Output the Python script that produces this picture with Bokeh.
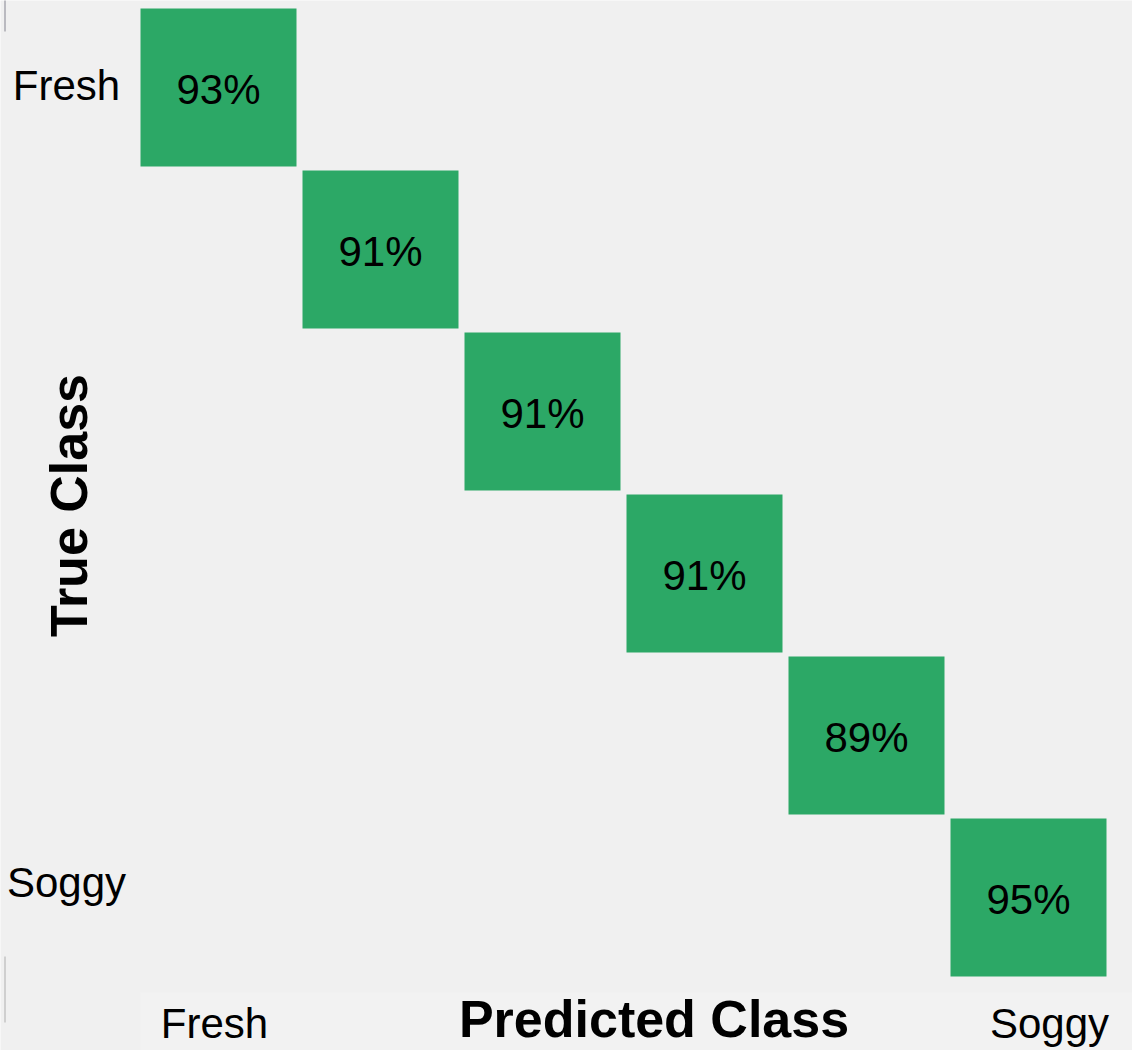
from bokeh.plotting import figure
from bokeh.models import ColumnDataSource, Range1d
from bokeh.core.properties import value
from bokeh.embed import file_html
from bokeh.resources import INLINE

# ---------------- data ----------------
n_classes = 6
y_tick_labels = ["Fresh", "Soggy"]          # labels shown on the True Class axis
x_tick_labels = ["Fresh", "Soggy"]          # labels shown on the Predicted Class axis
diag_values = [93, 91, 91, 91, 89, 95]      # % correct on the diagonal
x_title = "Predicted Class"
y_title = "True Class"

# ---------------- layout ----------------
W, H = 1132, 1050
CELL = 162.0                 # px per cell
GRID_LEFT_PX = 137           # px where column 0 begins
GRID_TOP_PX = 6              # px where row 0 begins

x_start = -GRID_LEFT_PX / CELL
x_end = x_start + W / CELL
y_top = -GRID_TOP_PX / CELL
y_bottom = y_top + H / CELL

def px_to_x(px):
    return (px - GRID_LEFT_PX) / CELL

def px_to_y(py):
    return (py - GRID_TOP_PX) / CELL

GREEN = "#2ca866"
BG = "#f0f0f0"
FONT = value("Liberation Sans")

p = figure(width=W, height=H, output_backend="svg", toolbar_location=None,
           x_range=Range1d(x_start, x_end), y_range=Range1d(y_bottom, y_top),
           min_border=0, min_border_left=0, min_border_right=0,
           min_border_top=0, min_border_bottom=0)
p.axis.visible = False
p.grid.visible = False
p.outline_line_color = None
p.background_fill_color = BG
p.border_fill_color = BG

# lighter strip behind the predicted-class axis
p.quad(left=px_to_x(140), right=x_end + 1, top=px_to_y(992), bottom=y_bottom + 1,
       fill_color="#f2f2f2", line_color=None)

# thin window-edge marks at the far left
p.segment(x0=[px_to_x(4.5)] * 2, x1=[px_to_x(4.5)] * 2,
          y0=[px_to_y(-2), px_to_y(956)], y1=[px_to_y(31), px_to_y(1022)],
          line_color=["#a9a9b0", "#c4c4c4"], line_width=1.5)

# diagonal cells
idx = list(range(n_classes))
src = ColumnDataSource(dict(
    x=[i + 0.5 for i in idx],
    y=[i + 0.5 for i in idx],
    label=[f"{v}%" for v in diag_values],
))
p.rect(x="x", y="y", width=156 / CELL, height=158 / CELL, source=src,
       fill_color=GREEN, line_color=None)
p.text(x="x", y="y", text="label", source=src, y_offset=2,
       text_align="center", text_baseline="middle",
       text_font=FONT, text_font_size="42px", text_color="#000000")

# true-class tick labels (first and last rows)
p.text(x=[px_to_x(66)] * 2, y=[px_to_y(84.5), px_to_y(882)], text=y_tick_labels,
       text_align="center", text_baseline="middle",
       text_font=FONT, text_font_size="42px", text_color="#000000")

# predicted-class tick labels
p.text(x=[px_to_x(214), px_to_x(1049)], y=[px_to_y(1023)] * 2, text=x_tick_labels,
       text_align="center", text_baseline="middle",
       text_font=FONT, text_font_size="42px", text_color="#000000")

# axis titles
p.text(x=[px_to_x(653.5)], y=[px_to_y(1018)], text=[x_title],
       text_align="center", text_baseline="middle",
       text_font=FONT, text_font_size="52px", text_font_style="bold",
       text_color="#000000")
p.text(x=[px_to_x(68)], y=[px_to_y(505)], text=[y_title], angle=1.5707963,
       text_align="center", text_baseline="middle",
       text_font=FONT, text_font_size="52px", text_font_style="bold",
       text_color="#000000")

open("out.html", "w").write(file_html(p, INLINE))
